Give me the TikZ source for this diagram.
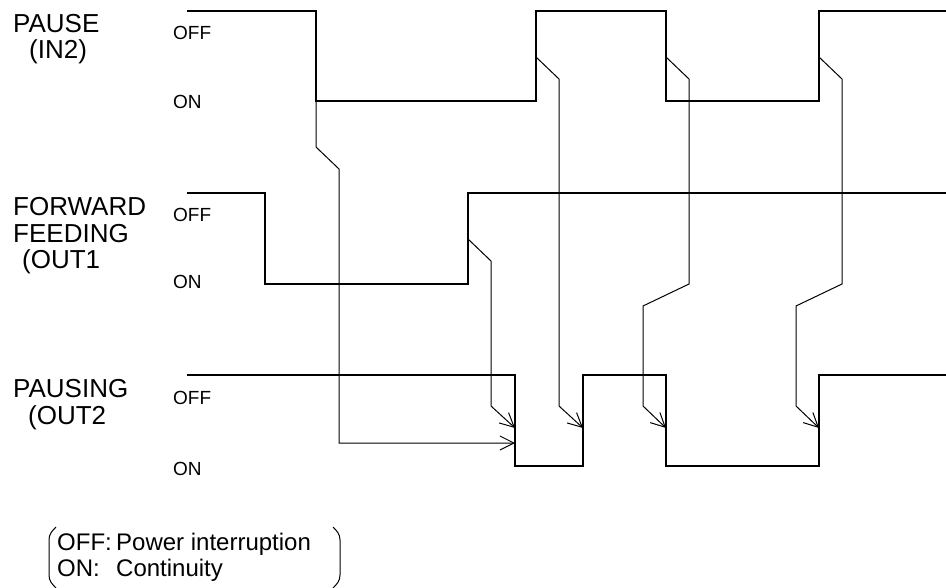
\documentclass[tikz,border=0pt]{standalone}
\usepackage{fontspec}
\setmainfont{Liberation Sans}
\usetikzlibrary{arrows.meta,positioning}

\begin{document}
\begin{tikzpicture}
  [x=1pt,y=-1pt,
   sigL/.style={line width=2pt},
   arrL/.style={line width=1pt,-{Straight Barb[length=14pt,width=14pt]}},
   nameT/.style={anchor=base west,inner sep=0pt,font=\fontsize{26}{30}\selectfont},
   levelT/.style={anchor=base west,inner sep=0pt,font=\fontsize{19}{22}\selectfont},
   noteT/.style={anchor=base west,inner sep=0pt,font=\fontsize{24}{28}\selectfont}]

  \useasboundingbox (0,0) rectangle (946,587);

  % signal names
  \node[nameT] (pause) at (13,32) {PAUSE};
  \node[nameT] (pauseIn) at (29,58) {(IN2)};
  \node[nameT] (fwd) at (13,215) {FORWARD};
  \node[nameT] (fwdFeed) at (13,242) {FEEDING};
  \node[nameT] (fwdOut) at (22,268) {(OUT1};
  \node[nameT] (pausing) at (13,397) {PAUSING};
  \node[nameT] (pausingOut) at (28,424) {(OUT2};

  % levels
  \node[levelT] (pauseOff) at (173,39) {OFF};
  \node[levelT] (pauseOn) at (173,108) {ON};
  \node[levelT] (fwdOff) at (173,221) {OFF};
  \node[levelT] (fwdOn) at (173,288) {ON};
  \node[levelT] (pausingOff) at (173,404) {OFF};
  \node[levelT] (pausingOn) at (173,475) {ON};

  % signals
  \draw[sigL] (187,11) -- (316,11) -- (316,101) -- (536,101) -- (536,11)
    -- (666,11) -- (666,101) -- (819,101) -- (819,11) -- (946,11);
  \draw[sigL] (187,193) -- (265,193) -- (265,284) -- (468,284) -- (468,193)
    -- (946,193);
  \draw[sigL] (187,375) -- (515,375) -- (515,466) -- (583,466) -- (583,375)
    -- (666,375) -- (666,466) -- (819,466) -- (819,375) -- (946,375);

  % cause and effect
  \coordinate (pFall) at (316,101);
  \coordinate (pRise) at (536,57);
  \coordinate (fRise) at (468,239);
  \coordinate (tipA) at (515,443);
  \coordinate (tipB) at (515,428);
  \coordinate (tipC) at (583,428);

  \draw[arrL] (pFall) -- ++(0,46) -- ++(23,22) |- (tipA);
  \draw[arrL] (fRise) -- ++(23,22) -- ++(0,145) -- (tipB);
  \draw[arrL] (pRise) -- ++(23,22) -- ++(0,327) -- (tipC);

  \foreach \x in {666,819}
  {
    \coordinate (s\x) at (\x,57);
    \coordinate (t\x) at (\x,428);
    \draw[arrL] (s\x) -- ++(23,22) -- ++(0,205) -- ++(-46,22) -- ++(0,100)
      -- (t\x);
  }

  % legend
  \node[noteT] (noteOff) at (57,550) {\makebox[59pt][l]{OFF:}Power interruption};
  \node[noteT] (noteOn) at (57,576) {\makebox[59pt][l]{ON:}Continuity};
  \draw[line width=1pt] (56,527) to[out=225,in=90] (49,540) -- (49,575)
    to[out=-90,in=135] (56,588);
  \draw[line width=1pt] (333,527) to[out=-45,in=90] (340,540) -- (340,575)
    to[out=-90,in=45] (333,588);

\end{tikzpicture}
\end{document}
